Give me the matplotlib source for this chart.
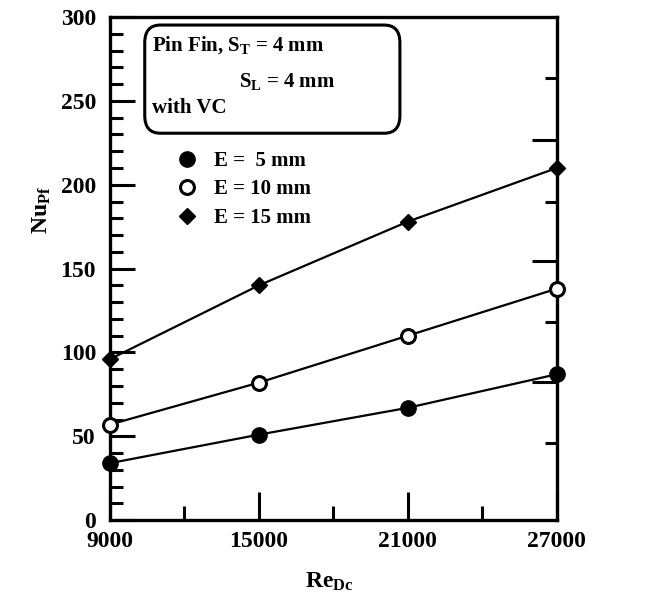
import matplotlib.pyplot as plt
from matplotlib.patches import FancyBboxPatch

plt.rcParams['font.family'] = ['Liberation Serif', 'DejaVu Serif']
plt.rcParams['font.weight'] = 'bold'
plt.rcParams['mathtext.fontset'] = 'custom'
plt.rcParams['mathtext.rm'] = 'Liberation Serif:bold'
plt.rcParams['mathtext.it'] = 'Liberation Serif:bold'

re_dc = [9000, 15000, 21000, 27000]
nu_e5 = [34, 51, 67, 87]
nu_e10 = [57, 82, 110, 138]
nu_e15 = [96, 140, 178, 210]
labels = ['E =  5 mm', 'E = 10 mm', 'E = 15 mm']

fig = plt.figure(figsize=(6.62, 6.07), dpi=100)
ax = fig.add_axes([0.166, 0.143, 0.675, 0.829])

l1, = ax.plot(re_dc, nu_e5, '-o', color='black', lw=1.6, ms=11, clip_on=False, zorder=3)
l2, = ax.plot(re_dc, nu_e10, '-o', color='black', lw=1.6, ms=10, mfc='white', mew=2.2,
              clip_on=False, zorder=3)
l3, = ax.plot(re_dc, nu_e15, '-D', color='black', lw=1.6, ms=8.5, clip_on=False, zorder=3)

ax.set_xlim(9000, 27000)
ax.set_ylim(0, 300)
ax.set_xticks([9000, 15000, 21000, 27000])
ax.set_xticks([12000, 18000, 24000], minor=True)
ax.set_yticks(range(0, 301, 50))
ax.set_yticks(range(0, 301, 10), minor=True)
ax.tick_params(which='both', direction='in', width=2.2, labelsize=17)
ax.tick_params(axis='x', which='major', length=20, top=False, pad=8)
ax.tick_params(axis='x', which='minor', length=10)
ax.tick_params(axis='y', which='major', length=18, right=False, pad=10)
ax.tick_params(axis='y', which='minor', length=9, right=False)
for s in ax.spines.values():
    s.set_linewidth(2.4)

# odd right-hand ticks
ax2 = ax.twinx()
ax2.set_ylim(0, 300)
ax2.set_yticks([226.6, 154.4, 82.3])
ax2.set_yticks([263.6, 189.6, 118, 45.9], minor=True)
ax2.tick_params(which='both', direction='in', width=2.2, labelright=False)
ax2.tick_params(which='major', length=18)
ax2.tick_params(which='minor', length=9)
for s in ax2.spines.values():
    s.set_visible(False)

ax.set_xlabel('$Re_{Dc}$', fontsize=17)
ax.xaxis.set_label_coords(0.49, -0.1)
ax.set_ylabel('$Nu_{Pf}$', fontsize=17)
ax.yaxis.set_label_coords(-0.128, 0.616)

box = FancyBboxPatch((0.078, 0.769), 0.571, 0.215, boxstyle='round,pad=0,rounding_size=0.035',
                     transform=ax.transAxes, fc='white', ec='black', lw=2.2, zorder=4)
ax.add_patch(box)
ax.text(0.094, 0.944, 'Pin Fin, $S_T$ = 4 mm', transform=ax.transAxes, fontsize=15,
        va='center', zorder=5)
ax.text(0.29, 0.871, '$S_L$ = 4 mm', transform=ax.transAxes, fontsize=15,
        va='center', zorder=5)
ax.text(0.094, 0.819, 'with VC', transform=ax.transAxes, fontsize=15,
        va='center', zorder=5)

ax.legend([l1, l2, l3], labels, loc='upper left', bbox_to_anchor=(0.14, 0.75),
          frameon=False, fontsize=15, handlelength=0.6, handletextpad=1.0,
          labelspacing=0.4, borderaxespad=0)

fig.savefig('out.png', dpi=100)
